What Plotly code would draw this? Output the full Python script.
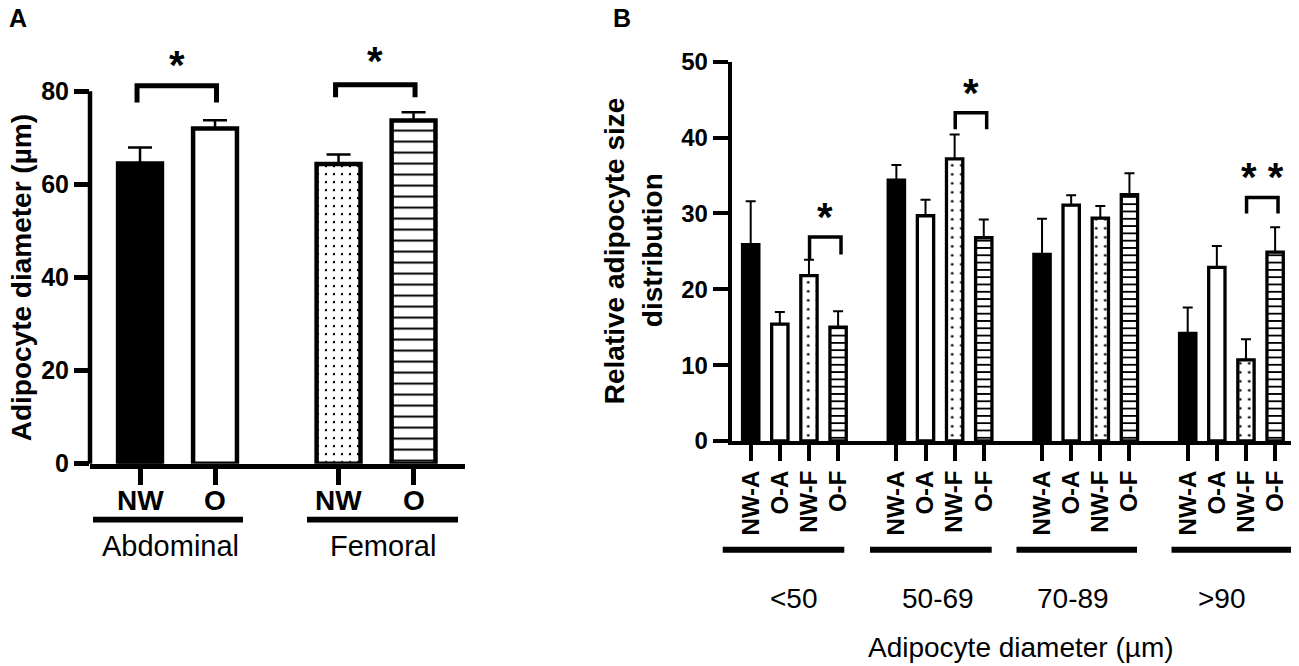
import plotly.graph_objects as go

W, H = 1299, 666
FONT = "Liberation Sans, Arial, sans-serif"

# ---- panel A: mean adipocyte diameter (µm) + SEM ----
a_regions = ["Abdominal", "Femoral"]
a_groups = ["NW", "O"]
a_abdominal = [64.5, 72.0]
a_abdominal_sem = [3.4, 1.8]
a_femoral = [64.4, 73.7]
a_femoral_sem = [2.0, 1.8]
a_yticks = [0, 20, 40, 60, 80]

# ---- panel B: relative adipocyte size distribution + SEM ----
b_bins = ["<50", "50-69", "70-89", ">90"]
b_series = ["NW-A", "O-A", "NW-F", "O-F"]
b_nw_a = [25.9, 34.4, 24.6, 14.2]
b_nw_a_sem = [5.7, 2.0, 4.7, 3.4]
b_o_a = [15.4, 29.7, 31.1, 22.9]
b_o_a_sem = [1.6, 2.1, 1.3, 2.8]
b_nw_f = [21.8, 37.2, 29.4, 10.7]
b_nw_f_sem = [2.1, 3.2, 1.6, 2.7]
b_o_f = [15.0, 26.8, 32.5, 24.9]
b_o_f_sem = [2.1, 2.4, 2.8, 3.3]
b_yticks = [0, 10, 20, 30, 40, 50]

# significance: (group index, label, bracket top, left leg end, right leg end, star y)
a_sig = [(0, "*", 81.2, 77.6, 77.6, 86.3), (1, "*", 81.4, 78.7, 78.7, 87.2)]
b_sig = [(0, "*", 26.9, 24.0, 24.6, 29.9),
         (1, "*", 43.3, 41.1, 41.1, 46.3),
         (3, "* *", 32.1, 30.0, 30.0, 35.2)]

# ---- geometry, in screen pixels of the photographed page ----
# the page draws the paper shifted by the body margin and a little squeezed in height
OX, OY, SY = 8, 23, 0.955

A_X_PX = (90, 465)
A_Y_PX = (463.3, 27.1)
A_X_RANGE = [-0.667, 4.333]
A_Y_RANGE = [0, 94]
A_GAP = 2.647

B_X_PX = (731.7, 1299)
B_Y_PX = (440.7, 62.7)
B_X_RANGE = [-0.652, 18.82]
B_Y_RANGE = [0, 50]
B_GAP = 5

A_SPAN_PX = [(93, 243), (307, 458)]
A_LABEL_PX = [170, 382.5]
B_SPAN_PX = [(722.7, 844.3), (870, 991.7), (1016.5, 1137), (1171.5, 1291.6)]
B_LABEL_PX = [793.5, 937.5, 1073, 1222]


def px(x):
    return (x - OX) / W


def py(y):
    return 1 - (y - OY) / (H * SY)


def style(kind, line_w, dot_size, stripe_size, stripe_sol):
    m = dict(color="black" if kind == 0 else "white",
             line=dict(color="black", width=line_w))
    if kind == 2:
        m["pattern"] = dict(shape=".", size=dot_size, solidity=0.07,
                            fgcolor="black", bgcolor="white", fillmode="replace")
    if kind == 3:
        m["pattern"] = dict(shape="-", size=stripe_size, solidity=stripe_sol,
                            fgcolor="black", bgcolor="white", fillmode="replace")
    return m


fig = go.Figure()
shapes = []
annotations = []


def text(x, y, s, size, bold=False, angle=0, xref="paper"):
    return dict(x=px(x) if xref == "paper" else x, y=py(y), xref=xref, yref="paper",
                text=s, showarrow=False, xanchor="center", yanchor="middle",
                textangle=angle,
                font=dict(family=FONT, size=size, color="black",
                          weight="bold" if bold else "normal"))


# Panel A bars
a_vals = [a_abdominal, a_femoral]
a_sems = [a_abdominal_sem, a_femoral_sem]
a_tickvals = []
for r, region in enumerate(a_regions):
    for i, grp in enumerate(a_groups):
        xpos = r * A_GAP + i
        a_tickvals.append(xpos)
        fig.add_trace(go.Bar(
            x=[xpos], y=[a_vals[r][i]], width=0.585,
            marker=style(r * 2 + i, 4.5, 8, 11, 0.18),
            error_y=dict(type="data", symmetric=False, array=[a_sems[r][i]],
                         arrayminus=[0], color="black", thickness=2.5, width=12),
            name=f"{grp} {region}", xaxis="x", yaxis="y", showlegend=False,
        ))
        annotations.append(text(xpos, 500, grp, 28, bold=True, xref="x"))

# Panel B bars
b_vals = [b_nw_a, b_o_a, b_nw_f, b_o_f]
b_sems = [b_nw_a_sem, b_o_a_sem, b_nw_f_sem, b_o_f_sem]
b_tickvals, b_ticktext = [], []
for g in range(len(b_bins)):
    for i, s in enumerate(b_series):
        b_tickvals.append(g * B_GAP + i)
        b_ticktext.append(s)
for i, s in enumerate(b_series):
    fig.add_trace(go.Bar(
        x=[g * B_GAP + i for g in range(len(b_bins))], y=b_vals[i], width=0.56,
        marker=style(i, 3.3, 9, 7.3, 0.25),
        error_y=dict(type="data", symmetric=False, array=b_sems[i],
                     arrayminus=[0] * len(b_bins), color="black", thickness=2, width=5),
        name=s, xaxis="x2", yaxis="y2", showlegend=False,
    ))


def bracket(xr, yr, x0, x1, top, l0, l1, w):
    return dict(type="path", xref=xr, yref=yr, layer="above",
                path=f"M {x0},{l0} L {x0},{top} L {x1},{top} L {x1},{l1}",
                line=dict(color="black", width=w))


def star(xr, yr, x, y, label):
    return dict(x=x, y=y, xref=xr, yref=yr, text=label, showarrow=False,
                xanchor="center", yanchor="middle", yshift=-3,
                font=dict(family=FONT, size=40, color="black", weight="bold"))


for r, label, top, l0, l1, sy in a_sig:
    x0, x1 = r * A_GAP - 0.04, r * A_GAP + 1.02
    shapes.append(bracket("x", "y", x0, x1, top, l0, l1, 5))
    annotations.append(star("x", "y", (x0 + x1) / 2, sy, label))

for g, label, top, l0, l1, sy in b_sig:
    x0, x1 = g * B_GAP + 2.02, g * B_GAP + 3.1
    shapes.append(bracket("x2", "y2", x0, x1, top, l0, l1, 3.5))
    annotations.append(star("x2", "y2", (x0 + x1) / 2, sy, label))

# y axis line of A stops at 80
shapes.append(dict(type="line", xref="x domain", yref="y", x0=0, x1=0, y0=-1, y1=80,
                   line=dict(color="black", width=4.5)))

# group underlines
for x0, x1 in A_SPAN_PX:
    shapes.append(dict(type="line", xref="paper", yref="paper", x0=px(x0), x1=px(x1),
                       y0=py(519), y1=py(519), line=dict(color="black", width=5.7)))
for x0, x1 in B_SPAN_PX:
    shapes.append(dict(type="line", xref="paper", yref="paper", x0=px(x0), x1=px(x1),
                       y0=py(549), y1=py(549), line=dict(color="black", width=6)))

for xc, name in zip(A_LABEL_PX, a_regions):
    annotations.append(text(xc, 545, name, 29))
for xc, name in zip(B_LABEL_PX, b_bins):
    annotations.append(text(xc, 598, name, 28))

annotations += [
    text(18, 19, "A", 25, bold=True),
    text(622, 19, "B", 25, bold=True),
    text(21, 278.5, "Adipocyte diameter (µm)", 28, bold=True, angle=-90),
    text(614, 251.5, "Relative adipocyte size", 28, bold=True, angle=-90),
    text(652, 250.5, "distribution", 28, bold=True, angle=-90),
    text(1021, 647, "Adipocyte diameter (µm)", 28),
]

axis_common = dict(showgrid=False, zeroline=False, ticks="outside", tickcolor="black",
                   linecolor="black")

fig.update_layout(
    width=W, height=H,
    margin=dict(l=0, r=0, t=0, b=0),
    paper_bgcolor="white", plot_bgcolor="white",
    showlegend=False, barmode="overlay",
    font=dict(family=FONT, color="black"),
    xaxis=dict(axis_common, domain=[px(A_X_PX[0]), px(A_X_PX[1])], range=A_X_RANGE,
               anchor="y", showline=True, linewidth=4.5, ticklen=17, tickwidth=4.5,
               tickvals=a_tickvals, showticklabels=False),
    yaxis=dict(axis_common, domain=[py(A_Y_PX[0]), py(A_Y_PX[1])], range=A_Y_RANGE,
               anchor="x", showline=False, ticklen=15, tickwidth=4.5,
               tickvals=a_yticks,
               tickfont=dict(family=FONT, size=25, color="black", weight="bold")),
    xaxis2=dict(axis_common, domain=[px(B_X_PX[0]), px(B_X_PX[1])], range=B_X_RANGE,
                anchor="y2", showline=True, linewidth=4, ticklen=16, tickwidth=3.5,
                tickvals=b_tickvals, ticktext=b_ticktext, tickangle=-90,
                tickfont=dict(family=FONT, size=24, color="black", weight="bold")),
    yaxis2=dict(axis_common, domain=[py(B_Y_PX[0]), py(B_Y_PX[1])], range=B_Y_RANGE,
                anchor="x2", showline=True, linewidth=4, ticklen=15, tickwidth=3.5,
                tickvals=b_yticks,
                tickfont=dict(family=FONT, size=24, color="black", weight="bold")),
    shapes=shapes,
    annotations=annotations,
)

fig.write_html("out.html")
